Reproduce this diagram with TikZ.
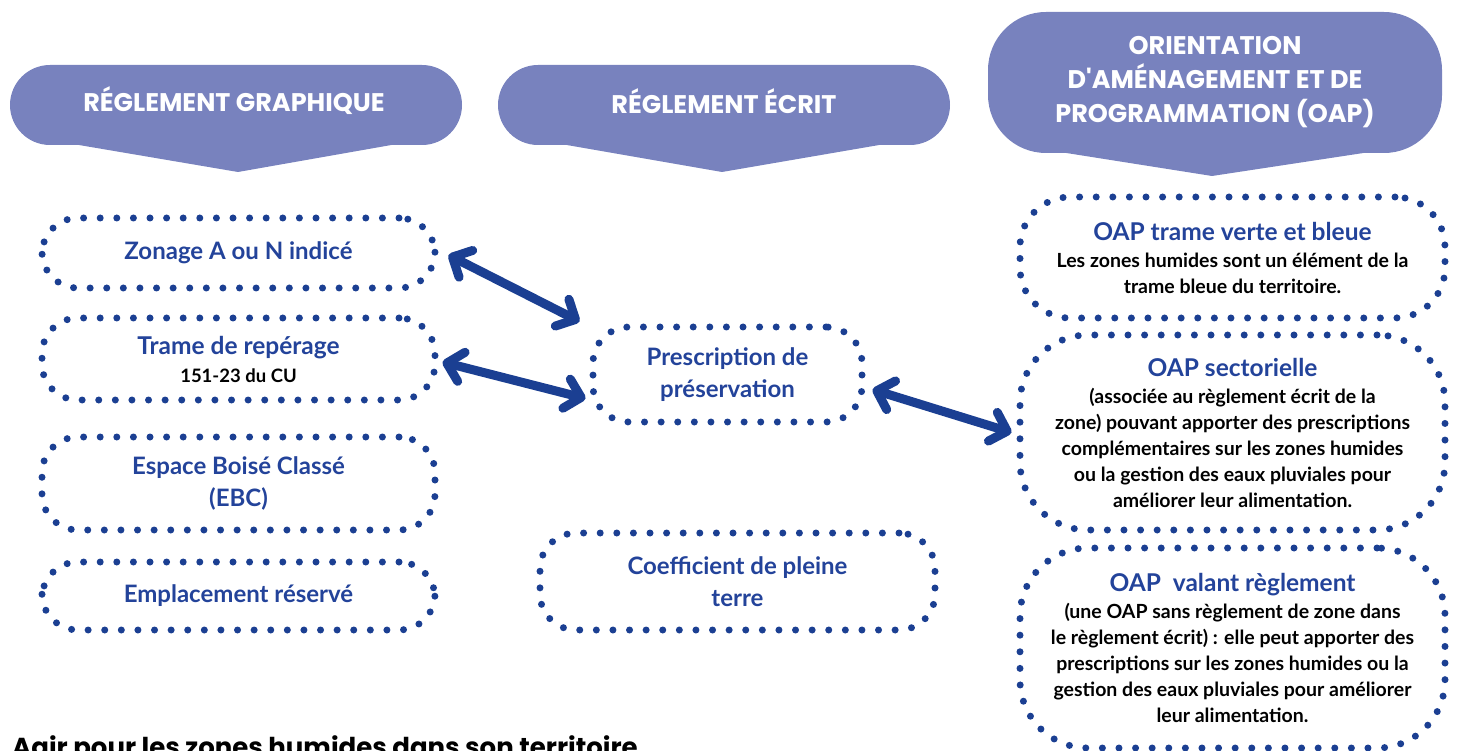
\documentclass[tikz,border=0pt]{standalone}
\usepackage{fontspec}
\setmainfont{Lato}
\newfontfamily\hdrfont{Poppins}
\usetikzlibrary{arrows.meta}
\definecolor{hdrfill}{HTML}{7882BE}
\definecolor{dotblue}{HTML}{1B3F92}
\definecolor{tblue}{HTML}{23439A}
\tikzset{
  dotbox/.style={draw=dotblue, line width=7pt, dash pattern=on 0pt off 16.6pt, line cap=round,
    rounded corners=#1, align=center, inner sep=0pt},
  dotbox/.default=36pt,
  onlyblue/.style={font=\bfseries\fontsize{24}{32}\selectfont, text=tblue},
  mixed/.style={font=\bfseries\fontsize{18.5}{26}\selectfont},
  mixedr/.style={font=\bfseries\fontsize{19.5}{26}\selectfont},
  hdrtext/.style={text=white, font=\hdrfont\bfseries\fontsize{25.5}{34}\selectfont, align=center},
  link/.style={draw=dotblue, line width=9pt, line cap=round,
    {Straight Barb[length=15pt, width=30pt, line cap=round, line join=round]}-{Straight Barb[length=15pt, width=30pt, line cap=round, line join=round]}}
}
\newcommand{\bt}[1]{{\color{tblue}\fontsize{24.5}{32}\selectfont #1}}
\begin{document}
\begin{tikzpicture}[x=1pt,y=-1pt]
\useasboundingbox (0,0) rectangle (1457,751);
% headers
\fill[hdrfill, rounded corners=40pt] (10,65) rectangle (462,145);
\fill[hdrfill] (73,144) -- (238,172) -- (397,144) -- cycle;
\node[hdrtext] (h1) at (234,101) {RÉGLEMENT GRAPHIQUE};
\fill[hdrfill, rounded corners=40pt] (498,65) rectangle (950,145);
\fill[hdrfill] (561,144) -- (722,172) -- (885,144) -- cycle;
\node[hdrtext] (h2) at (724,101) {RÉGLEMENT ÉCRIT};
\fill[hdrfill, rounded corners=58pt] (988,12) rectangle (1442,153);
\fill[hdrfill] (1060,152) -- (1212,176) -- (1370,152) -- cycle;
\node[hdrtext] (h3) at (1215,82) {ORIENTATION\\D'AMÉNAGEMENT ET DE\\PROGRAMMATION (OAP)};
% left column
\node[dotbox, onlyblue, minimum width=393pt, minimum height=70pt] (zon) at (238.5,253) {Zonage A ou N indicé};
\node[dotbox, mixed, minimum width=393pt, minimum height=82pt] (tra) at (238.5,359) {\bt{Trame de repérage}\\[2pt]151-23 du CU};
\node[dotbox, onlyblue, minimum width=393pt, minimum height=93pt] (ebc) at (238.5,483.5) {Espace Boisé Classé\\(EBC)};
\node[dotbox, onlyblue, minimum width=393pt, minimum height=68pt] (emp) at (238.5,596) {Emplacement réservé};
% middle column
\node[dotbox, onlyblue, minimum width=269pt, minimum height=95pt] (pre) at (727.5,374.5) {Prescription de\\préservation};
\node[dotbox, onlyblue, minimum width=395pt, minimum height=97pt] (coe) at (737.5,581.5) {Coefficient de pleine\\terre};
% right column
\node[dotbox=50pt, mixedr, minimum width=425pt, minimum height=121pt] (tvb) at (1232.5,257.5)
  {\bt{OAP trame verte et bleue}\\[1pt]Les zones humides sont un élément de la\\trame bleue du territoire.};
\node[dotbox=68pt, mixedr, minimum width=425pt, minimum height=195pt] (sec) at (1232.5,432.5)
  {\bt{OAP sectorielle}\\[1pt](associée au règlement écrit de la\\zone) pouvant apporter des prescriptions\\complémentaires sur les zones humides\\ou la gestion des eaux pluviales pour\\améliorer leur alimentation.};
\node[dotbox=68pt, mixedr, minimum width=425pt, minimum height=200pt] (val) at (1232.5,648)
  {\bt{OAP\ \ valant règlement}\\[1pt](une OAP sans règlement de zone dans\\le règlement écrit) : elle peut apporter des\\prescriptions sur les zones humides ou la\\gestion des eaux pluviales pour améliorer\\leur alimentation.};
% arrows
\draw[link] ([shift={(10,2)}]zon.east) -- ([shift={(-10,-2)}]pre.north west);
\draw[link] ([shift={(4,3)}]tra.east) -- ([shift={(-4,24)}]pre.west);
\draw[link] ([shift={(7,15)}]pre.east) -- ([shift={(-5,0)}]sec.west);
% bottom caption (cut by the frame, as in the reference)
\node[anchor=base west, inner sep=0pt, font=\hdrfont\bfseries\fontsize{26}{30}\selectfont] (cap) at (12,756) {Agir pour les zones humides dans son territoire};
\end{tikzpicture}
\end{document}
